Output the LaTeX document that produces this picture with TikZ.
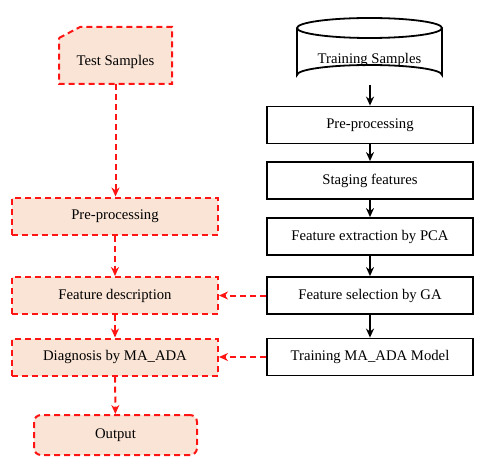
\documentclass[tikz,border=0pt]{standalone}
\usepackage{fontspec}
\setmainfont{Liberation Serif}
\usetikzlibrary{arrows.meta}
\definecolor{peach}{RGB}{250,228,214}
\definecolor{dred}{RGB}{255,20,20}
\begin{document}
\begin{tikzpicture}[x=1pt,y=-1pt,
  txt/.style={font=\fontsize{14.7}{16}\selectfont, inner sep=0pt},
  bbox/.style={draw=black, line width=1.8pt, minimum width=206pt, minimum height=37pt, txt},
  rbox/.style={draw=dred, fill=peach, line width=2pt, dash pattern=on 6pt off 4pt, minimum width=206pt, minimum height=37pt, txt},
  barrow/.style={-{Stealth[length=9pt,width=8pt]}, line width=1.8pt, black},
  rarrow/.style={-{Stealth[length=9pt,width=8pt]}, line width=2pt, dred, dash pattern=on 6pt off 4pt}]
\useasboundingbox (0,0) rectangle (489,465);
% Test samples card
\path[draw=dred, fill=peach, line width=2pt, dash pattern=on 6pt off 4pt]
  (59,38) -- (80,27) -- (172,27) -- (172,84) -- (59,84) -- cycle;
\node[txt] (ts) at (115.5,62) {Test Samples};
\coordinate (tsb) at (115.5,84);
% Training samples cylinder
\path[draw=black, line width=1.8pt, fill=white]
  (297,28) -- (297,75) arc[start angle=180, end angle=360, x radius=72.5, y radius=10] -- (442,28);
\draw[black, line width=1.8pt] (369.5,28) ellipse[x radius=72.5, y radius=10];
\node[txt] (trs) at (369.5,60) {Training Samples};
\coordinate (trsb) at (370,85);
% right column
\node[bbox] (r1) at (370,125) {Pre-processing};
\node[bbox] (r2) at (370,180.5) {Staging features};
\node[bbox] (r3) at (370,236.5) {Feature extraction by PCA};
\node[bbox] (r4) at (370,295.5) {Feature selection by GA};
\node[bbox] (r5) at (370,357) {Training MA\_ADA Model};
% left column
\node[rbox] (l1) at (115,216) {Pre-processing};
\node[rbox] (l2) at (115,295.5) {Feature description};
\node[rbox] (l3) at (115,357) {Diagnosis by MA\_ADA};
\node[rbox, rounded corners=7pt, minimum width=163pt, minimum height=40pt] (l4) at (115.5,435) {Output};
% arrows
\draw[barrow] (trsb) -- (r1);
\draw[barrow] (r1) -- (r2);
\draw[barrow] (r2) -- (r3);
\draw[barrow] (r3) -- (r4);
\draw[barrow] (r4) -- (r5);
\draw[rarrow] (tsb) -- (l1.north -| tsb);
\draw[rarrow] (l1) -- (l2);
\draw[rarrow] (l2) -- (l3);
\draw[rarrow] (l3) -- (l4);
\draw[rarrow] (r4) -- (l2);
\draw[rarrow] (r5) -- (l3);
\end{tikzpicture}
\end{document}
